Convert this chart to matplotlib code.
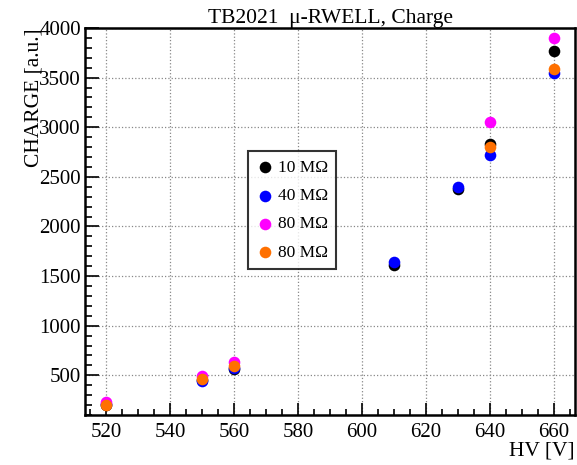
import numpy as np
import matplotlib
matplotlib.use("Agg")
import matplotlib.pyplot as plt
from matplotlib.ticker import MultipleLocator

plt.rcParams['font.family'] = ['Liberation Serif', 'DejaVu Serif']

# HV [V] and charge [a.u.] per termination resistor
hv_10 = [520, 550, 560, 610, 630, 640, 660]
q_10 = [205, 455, 560, 1615, 2380, 2830, 3770]

hv_40 = [520, 550, 560, 610, 630, 640, 660]
q_40 = [215, 440, 575, 1645, 2400, 2725, 3550]

hv_80a = [520, 550, 560, 640, 660]
q_80a = [233, 495, 635, 3055, 3900]

hv_80b = [520, 550, 560, 640, 660]
q_80b = [200, 460, 590, 2800, 3585]

labels = ["10 M\u03a9", "40 M\u03a9", "80 M\u03a9", "80 M\u03a9"]
colors = ["black", "#0000ff", "#ff00ff", "#ff7000"]

fig = plt.figure(figsize=(5.77, 4.65), dpi=100)
ax = fig.add_axes([85/577, 1-415/465, 490/577, 387/465])

series = [(hv_10, q_10), (hv_40, q_40), (hv_80a, q_80a), (hv_80b, q_80b)]
for (x, y), c, lab in zip(series, colors, labels):
    ax.scatter(x, y, s=70, color=c, label=lab, zorder=3, linewidths=0)

ax.set_xlim(513.3, 666.7)
ax.set_ylim(100, 4000)
ax.xaxis.set_major_locator(MultipleLocator(20))
ax.xaxis.set_minor_locator(MultipleLocator(5))
ax.yaxis.set_major_locator(MultipleLocator(500))
ax.yaxis.set_minor_locator(MultipleLocator(100))

ax.grid(True, which='major', linestyle=':', color='#888888', linewidth=0.9)
ax.tick_params(axis='both', which='both', direction='in', top=False, right=False, labelsize=15)
ax.tick_params(axis='x', which='major', length=9, width=1.2, pad=6)
ax.tick_params(axis='x', which='minor', length=4.5, width=1.2)
ax.tick_params(axis='y', which='major', length=10, width=1.2, pad=3)
ax.tick_params(axis='y', which='minor', length=5, width=1.2)
for sp in ax.spines.values():
    sp.set_linewidth(1.8)

ax.set_title("TB2021  \u03bc-RWELL, Charge", fontsize=15.5, pad=3)
ax.set_ylabel("CHARGE [a.u.]", fontsize=15.5, loc='top')
ax.yaxis.set_label_coords(-0.085, 1.0)
ax.set_xlabel("HV [V]", fontsize=15.5, loc='right')
ax.xaxis.set_label_coords(1.0, -0.068)

leg = ax.legend(loc='upper left', bbox_to_anchor=(163/490, 1-123/387), fontsize=12.5,
                frameon=True, fancybox=False, shadow=False, handletextpad=0.2,
                handlelength=1.0, borderpad=0.5, labelspacing=0.7, borderaxespad=0)
leg.get_frame().set_edgecolor('black')
leg.get_frame().set_linewidth(1.5)

fig.savefig("out.png", dpi=100)
